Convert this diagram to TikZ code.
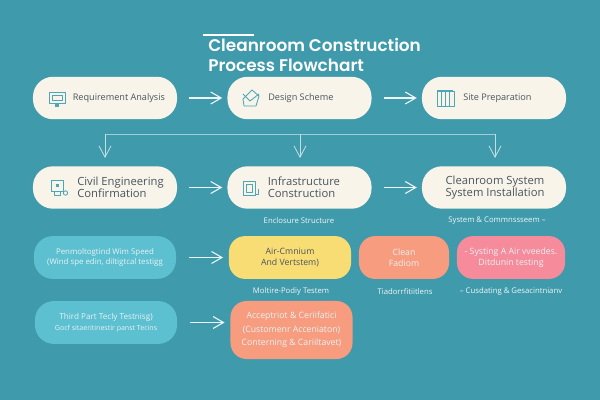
\documentclass[tikz,border=0pt]{standalone}
\usepackage{fontspec}
\setmainfont{Open Sans}
\newfontfamily\titlefont{Poppins SemiBold}
\usetikzlibrary{arrows.meta, positioning}
\definecolor{bgteal}{HTML}{3F9AAB}
\definecolor{cream}{HTML}{F8F4E9}
\definecolor{inktext}{HTML}{4A5560}
\definecolor{icontone}{HTML}{4BA6B6}
\definecolor{skybox}{HTML}{5CC0D0}
\definecolor{sunbox}{HTML}{F8DC74}
\definecolor{peachbox}{HTML}{F79C7E}
\definecolor{rosebox}{HTML}{F68B9B}
\tikzset{
	pill/.style={draw=none, fill=cream, minimum width=3.6cm, minimum height=1.06cm, rounded corners=.5cm, inner sep=0pt},
	softbox/.style={draw=none, minimum height=1.07cm, rounded corners=.4cm, inner sep=0pt, align=center, text=white!88!bgteal, font=\fontsize{6.2}{7.6}\selectfont},
	inktxt/.style={text=inktext, align=left, inner sep=0pt},
	smalltxt/.style={text=white!92!bgteal, inner sep=0pt, font=\fontsize{5.5}{7}\selectfont},
	flow/.style={draw=white!90!bgteal, line width=.8pt, -{Straight Barb[length=2.6mm,width=3mm]}},
	thinflow/.style={draw=white!50!bgteal, line width=.6pt},
	downflow/.style={draw=white!68!bgteal, line width=.6pt, -{Straight Barb[length=2.8mm,width=3mm]}},
	icon/.style={draw=icontone, line width=.6pt, line join=round}
}
\begin{document}
\begin{tikzpicture}[x=.025cm, y=-.025cm]
	\fill[bgteal] (0,0) rectangle (600,400);
	\useasboundingbox (0,0) rectangle (600,400);

	% title
	\fill[white] (203,34) rectangle (254,36);
	\node[anchor=west, inner sep=0pt, text=white, align=left, font=\titlefont\fontsize{12}{14.4}\selectfont] (title) at (208,55) {Cleanroom Construction\\Process Flowchart};

	% first row
	\node[pill] (req) at (105,98) {};
	\node[pill] (design) at (299.5,98) {};
	\node[pill] (site) at (494,98) {};
	\node[inktxt, anchor=west, font=\fontsize{6.5}{8}\selectfont] (reqtxt) at (72.5,98) {Requirement Analysis};
	\node[inktxt, anchor=west, font=\fontsize{6.5}{8}\selectfont] (designtxt) at (268,98) {Design Scheme};
	\node[inktxt, anchor=west, font=\fontsize{6.5}{8}\selectfont] (sitetxt) at (463,98) {Site Preparation};

	% second row
	\node[pill] (civil) at (105,187.5) {};
	\node[pill] (infra) at (299.5,187.5) {};
	\node[pill] (clean) at (494,187.5) {};
	\node[inktxt, anchor=west, font=\fontsize{8}{8.8}\selectfont] (civiltxt) at (77,187.5) {Civil Engineering\\Confirmation};
	\node[inktxt, anchor=west, font=\fontsize{8}{8.8}\selectfont] (infratxt) at (267.5,187.5) {Infrastructure\\Construction};
	\node[inktxt, align=center, font=\fontsize{8}{8.8}\selectfont] (cleantxt) at (495,187.5) {Cleanroom System\\System Installation};

	% third row
	\node[softbox, fill=skybox, minimum width=3.55cm, rounded corners=.47cm, font=\fontsize{5.6}{7.6}\selectfont] (wind) at (105,257.5) {Penmoltogtind Wim Speed\\(Wind spe edin, diltigtcal testigg};
	\node[softbox, fill=sunbox, text=inktext, minimum width=3.05cm] (air) at (290,257.5) {Air-Cmnium\\And Vertstem)};
	\node[softbox, fill=peachbox, minimum width=2.25cm] (fadiom) at (404,257.5) {Clean\\Fadiom};
	\node[softbox, fill=rosebox, minimum width=2.7cm] (sys) at (511,257.5) {- Systing A Air vveedes.\\Ditdunin testing};

	% fourth row
	\node[softbox, fill=skybox, minimum width=3.55cm, rounded corners=.47cm, font=\fontsize{5.8}{7.6}\selectfont] (third) at (106,322.5) {Third Part Tecly Testnisg)\\{\fontsize{5}{7.6}\selectfont Gocf sitaeritinestir panst Tecins}};
	\node[softbox, fill=peachbox, minimum width=3.05cm, minimum height=1.45cm, font=\fontsize{6.2}{9.6}\selectfont] (accept) at (291.5,330) {Acceptriot \& Ceriifatici\\(Customenr Acceniaton)\\Conterning \& Cariiltavet)};

	% captions between the rows
	\node[smalltxt] (enclosure) at (299,221) {Enclosure Structure};
	\node[smalltxt] (commission) at (497,221) {System \& Commnssseem --};
	\node[smalltxt] (multi) at (291,291.5) {Moltire-Podiy Testem};
	\node[smalltxt] (tadon) at (405,291.5) {Tiadorrfitiitlens};
	\node[smalltxt] (cusdat) at (511,291.5) {-- Cusdating \& Gesacintnianv};

	% arrows
	\coordinate (forkl) at (105,134);
	\coordinate (forkm) at (300,134);
	\coordinate (forkr) at (495,134);
	\coordinate (lowl) at (105,158);
	\coordinate (lowm) at (300,158);
	\coordinate (lowr) at (495,158);
	\draw[thinflow] (forkl) -- (forkr);
	\draw[downflow] (forkl) -- (lowl);
	\draw[downflow] (forkm) -- (lowm);
	\draw[downflow] (forkr) -- (lowr);
	\draw[flow, shorten >=3.5pt, shorten <=8.5pt] (req) -- (design);
	\draw[flow, shorten >=3.5pt, shorten <=8.5pt] (design) -- (site);
	\draw[flow, shorten >=3.5pt, shorten <=8.5pt] (civil) -- (infra);
	\draw[flow, shorten >=3.5pt, shorten <=8.5pt] (infra) -- (clean);
	\draw[flow, shorten >=4pt, shorten <=9pt] (wind) -- (air);
	\draw[flow, shorten >=4pt, shorten <=9pt] (third.east) -- (third.east -| accept.west);

	% icons
	\draw[icon] (49,92) rectangle (65,103); \draw[icon] (52,95) rectangle (62,100);
	\fill[icontone] (55,104) rectangle (59,107);
	\draw[icon] (243,99) -- (252,90) -- (259,96) -- (256,106) -- (244,106) -- cycle;
	\draw[icon] (243,94) -- (250,101) -- (259,94);
	\draw[icon] (437,91) rectangle (454,106);
	\draw[icon] (441,91) -- (441,106) (445,91) -- (445,106) (449,91) -- (449,106);
	\draw[icon] (437,90) -- (453,90);
	\draw[icon] (51,180) rectangle (63,191); \fill[icontone] (56,184) rectangle (59,187);
	\draw[icon] (54,191) -- (54,195) -- (60,195) -- (60,191); \draw[icon] (65.5,193) circle [radius=2.2];
	\draw[icon] (243,181) rectangle (255,195); \draw[icon] (246,184) rectangle (252,192);
	\draw[icon] (255,194) -- (258,194) -- (258,189);
\end{tikzpicture}
\end{document}
